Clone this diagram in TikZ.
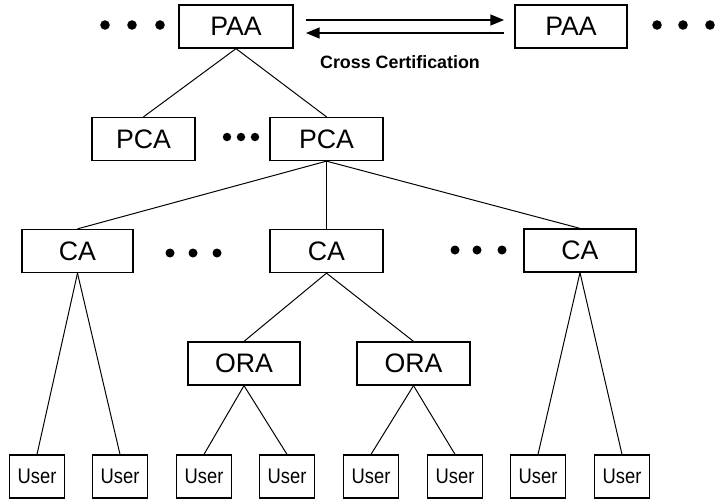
\documentclass[tikz,border=0pt]{standalone}
\usepackage{fontspec}
\setmainfont{Liberation Sans}
\newfontfamily\usernarrow[FakeStretch=0.87]{Liberation Sans}
\usetikzlibrary{arrows.meta}
\tikzset{main node/.style={rectangle,draw,line width=0.9pt,minimum height=1.075cm,inner sep=0pt,font=\fontsize{19}{21}\selectfont},
user node/.style={rectangle,draw,line width=0.9pt,minimum width=1.375cm,minimum height=1.075cm,inner sep=0pt,font=\usernarrow\fontsize{15}{17}\selectfont},
cross arrow/.style={line width=2pt,-{Triangle[length=10pt,width=7.5pt]}},
}

\begin{document}
\begin{tikzpicture}[x=0.025cm,y=-0.025cm,line width=0.7pt]
	\useasboundingbox (0,0) rectangle (715,500);
	\node[main node,minimum width=2.85cm] (paa1) at (236,26.5) {PAA};
	\node[main node,minimum width=2.8cm] (paa2) at (571,26.5) {PAA};
	\node[main node,minimum width=2.575cm] (pca1) at (143.5,139) {PCA};
	\node[main node,minimum width=2.825cm] (pca2) at (326.5,139) {PCA};
	\node[main node,minimum width=2.775cm] (ca1) at (77.5,251) {CA};
	\node[main node,minimum width=2.825cm] (ca2) at (326.5,251) {CA};
	\node[main node,minimum width=2.8cm] (ca3) at (580,250.5) {CA};
	\node[main node,minimum width=2.8cm] (ora1) at (244,363.5) {ORA};
	\node[main node,minimum width=2.825cm] (ora2) at (413.5,363.5) {ORA};
	\node[user node] (u1) at (37,476.5) {User};
	\node[user node] (u2) at (120,476.5) {User};
	\node[user node] (u3) at (204,476.5) {User};
	\node[user node] (u4) at (287,476.5) {User};
	\node[user node] (u5) at (371,476.5) {User};
	\node[user node] (u6) at (455,476.5) {User};
	\node[user node] (u7) at (538,476.5) {User};
	\node[user node] (u8) at (622,476.5) {User};
	\node[font=\fontsize{12.7}{14}\selectfont\bfseries] (cc) at (400,62) {Cross Certification};
	
	% cross certification
	\draw[cross arrow] ([shift={(12,-6.5)}]paa1.east) -- ([shift={(-10,-6.5)}]paa2.west);
	\draw[cross arrow] ([shift={(-10,6.5)}]paa2.west) -- ([shift={(12,6.5)}]paa1.east);
	
	% dots
	\fill (105,25) circle (3.4pt) (132,25) circle (3.4pt) (160,25) circle (3.4pt);
	\fill (657,25) circle (3.4pt) (683,25) circle (3.4pt) (710,25) circle (3.4pt);
	\fill (227,137) circle (3pt) (241,137) circle (3pt) (255,137) circle (3pt);
	\fill (170,253) circle (3.2pt) (193,253) circle (3.2pt) (217,253) circle (3.2pt);
	\fill (455,250) circle (3.2pt) (477,250) circle (3.2pt) (502,250) circle (3.2pt);
	
	\path[draw]
	(paa1.south) edge (pca1.north)
	(paa1.south) edge (pca2.north)
	(pca2.south) edge (ca1.north)
	(pca2.south) edge (ca2.north)
	(pca2.south) edge (ca3.north)
	(ca1.south) edge (u1.north)
	(ca1.south) edge (u2.north)
	(ca2.south) edge (ora1.north)
	(ca2.south) edge (ora2.north)
	(ora1.south) edge (u3.north)
	(ora1.south) edge (u4.north)
	(ora2.south) edge (u5.north)
	(ora2.south) edge (u6.north)
	(ca3.south) edge (u7.north)
	(ca3.south) edge (u8.north);
\end{tikzpicture}
\end{document}
